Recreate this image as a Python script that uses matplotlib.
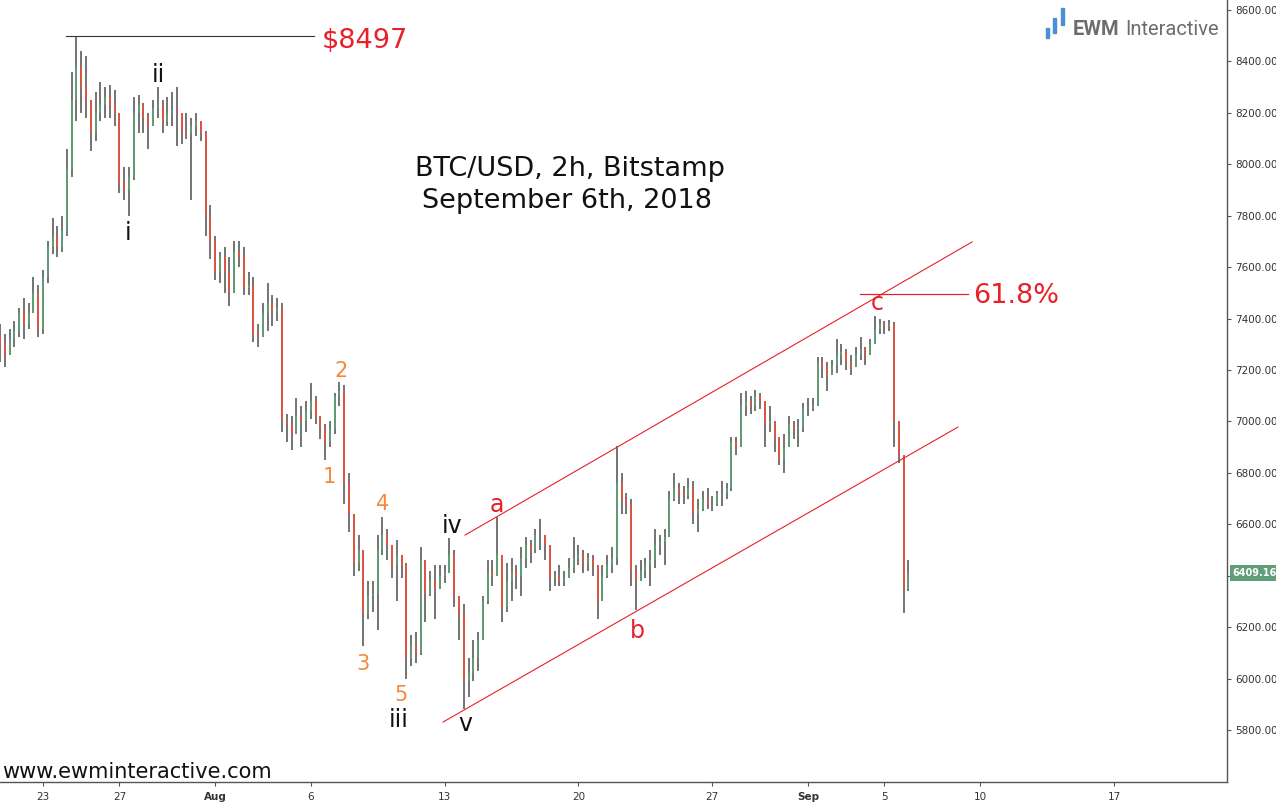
import numpy as np
import matplotlib
matplotlib.use("Agg")
import matplotlib.pyplot as plt
import matplotlib.dates as mdates
import matplotlib.transforms as mtransforms
from matplotlib.patches import Rectangle
import pandas as pd
from datetime import datetime

# ---------------- data (6h resolution) ----------------
bar_times = pd.date_range("2018-07-20 18:00", periods=191, freq="6h")
first_open = 7330

close = [7300, 7260, 7320, 7350, 7420, 7380, 7420, 7500, 7360, 7560,
         7680, 7720, 7680, 7740, 7980, 8250, 8380, 8300, 8250, 8120,
         8200, 8230, 8260, 8230, 8200, 7930, 7900, 7950, 8200, 8230,
         8180, 8150, 8220, 8230, 8170, 8200, 8210, 8200, 8130, 8120,
         8150, 8170, 8120, 7800, 7700, 7580, 7640, 7580, 7500, 7660,
         7640, 7520, 7530, 7340, 7330, 7420, 7460, 7430, 7440, 7000,
         6990, 6950, 7020, 7000, 7040, 7080, 7020, 6980, 6920, 6970,
         7100, 7120, 6760, 6640, 6450, 6500, 6250, 6320, 6330, 6500,
         6560, 6520, 6440, 6480, 6440, 6080, 6130, 6100, 6460, 6330,
         6380, 6350, 6400, 6410, 6480, 6320, 6250, 5990, 6020, 6080,
         6150, 6300, 6420, 6400, 6480, 6280, 6380, 6420, 6400, 6470,
         6520, 6500, 6560, 6560, 6520, 6390, 6400, 6380, 6390, 6430,
         6470, 6480, 6450, 6470, 6440, 6300, 6400, 6440, 6470, 6760,
         6700, 6680, 6420, 6380, 6420, 6440, 6460, 6520, 6530, 6550,
         6700, 6740, 6720, 6710, 6740, 6640, 6660, 6700, 6680, 6680,
         6720, 6720, 6740, 6920, 6900, 7060, 7080, 7060, 7100, 7080,
         6990, 7000, 6940, 6850, 6900, 6990, 6970, 6980, 7050, 7050,
         7060, 7230, 7210, 7180, 7220, 7260, 7270, 7230, 7210, 7260,
         7280, 7260, 7300, 7360, 7380, 7370, 7380, 7000, 6870, 6350,
         6409.16]

high = [7380, 7340, 7360, 7390, 7440, 7480, 7460, 7560, 7530, 7590,
        7700, 7790, 7760, 7800, 8060, 8360, 8497, 8440, 8420, 8240,
        8280, 8320, 8300, 8310, 8290, 8200, 7990, 7990, 8260, 8270,
        8240, 8200, 8250, 8300, 8250, 8260, 8280, 8300, 8190, 8200,
        8180, 8200, 8170, 8130, 7840, 7720, 7660, 7680, 7640, 7700,
        7700, 7680, 7580, 7560, 7380, 7460, 7540, 7490, 7480, 7460,
        7030, 7020, 7090, 7060, 7080, 7150, 7100, 7010, 6990, 7000,
        7110, 7155, 7140, 6800, 6580, 6560, 6500, 6380, 6380, 6560,
        6628, 6580, 6500, 6540, 6480, 6450, 6170, 6180, 6510, 6440,
        6420, 6440, 6440, 6440, 6548, 6500, 6320, 6290, 6080, 6150,
        6180, 6320, 6460, 6460, 6628, 6400, 6450, 6470, 6440, 6510,
        6550, 6540, 6580, 6620, 6560, 6470, 6420, 6440, 6420, 6470,
        6550, 6520, 6500, 6490, 6480, 6360, 6440, 6480, 6510, 6905,
        6800, 6720, 6700, 6440, 6460, 6470, 6500, 6580, 6560, 6580,
        6730, 6800, 6760, 6750, 6780, 6770, 6700, 6730, 6740, 6710,
        6730, 6770, 6760, 6940, 6940, 7110, 7120, 7100, 7122, 7110,
        7070, 7060, 7000, 6930, 6950, 7020, 7000, 7010, 7070, 7090,
        7090, 7250, 7250, 7230, 7240, 7320, 7300, 7280, 7260, 7290,
        7330, 7290, 7320, 7410, 7400, 7390, 7395, 7385, 7000, 6870,
        6460]

low = [7230, 7210, 7260, 7290, 7330, 7320, 7360, 7420, 7330, 7340,
       7540, 7650, 7640, 7660, 7720, 7950, 8170, 8200, 8180, 8050,
       8090, 8170, 8180, 8180, 8150, 7890, 7860, 7800, 7940, 8120,
       8120, 8060, 8150, 8180, 8120, 8150, 8150, 8070, 8080, 8100,
       7860, 8110, 8090, 7720, 7630, 7550, 7540, 7500, 7450, 7580,
       7600, 7490, 7490, 7310, 7290, 7350, 7350, 7370, 7390, 6960,
       6920, 6890, 6960, 6900, 6960, 7010, 6990, 6930, 6850, 6900,
       6950, 7060, 6680, 6570, 6400, 6420, 6125, 6230, 6260, 6190,
       6480, 6460, 6390, 6300, 6390, 6000, 6050, 6060, 6090, 6220,
       6320, 6230, 6350, 6370, 6420, 6280, 6150, 5880, 5930, 5990,
       6030, 6150, 6290, 6360, 6400, 6220, 6260, 6300, 6350, 6320,
       6430, 6450, 6490, 6500, 6460, 6340, 6360, 6360, 6360, 6390,
       6410, 6440, 6410, 6420, 6400, 6230, 6320, 6390, 6410, 6440,
       6640, 6640, 6360, 6265, 6380, 6390, 6360, 6430, 6480, 6440,
       6560, 6690, 6680, 6680, 6700, 6600, 6570, 6650, 6660, 6650,
       6670, 6670, 6700, 6730, 6870, 6900, 7020, 7030, 7040, 7050,
       6900, 6960, 6880, 6830, 6800, 6920, 6930, 6900, 6960, 7020,
       7040, 7060, 7170, 7120, 7180, 7190, 7220, 7200, 7180, 7210,
       7240, 7220, 7260, 7300, 7340, 7340, 7350, 6900, 6840, 6255,
       6340]

x_tick_dates = ["2018-07-23", "2018-07-27", "2018-08-01", "2018-08-06", "2018-08-13",
                "2018-08-20", "2018-08-27", "2018-09-01", "2018-09-05", "2018-09-10",
                "2018-09-17"]
x_tick_labels = ["23", "27", "Aug", "6", "13", "20", "27", "Sep", "5", "10", "17"]
bold_tick_labels = ["Aug", "Sep"]
y_ticks = [5800, 6000, 6200, 6400, 6600, 6800, 7000, 7200, 7400, 7600, 7800, 8000, 8200, 8400, 8600]

peak_price = 8497
fib_level = 7495
last_price = 6409.16

# channel lines: (day offset from Jul 23, price)
upper_channel = [(22.07, 6558), (48.58, 7698)]
lower_channel = [(20.92, 5831), (47.84, 6978)]

# wave labels: (text, day offset, price, color, size)
wave_labels = [
    ("ii", 6.01, 8320, "#111111", 17), ("i", 4.44, 7706, "#111111", 17),
    ("iii", 18.61, 5812, "#111111", 17), ("iv", 21.39, 6566, "#111111", 17),
    ("v", 22.07, 5796, "#111111", 17),
    ("1", 14.95, 6760, "#f7883b", 15), ("2", 15.58, 7173, "#f7883b", 15),
    ("3", 16.73, 6033, "#f7883b", 15), ("4", 17.78, 6655, "#f7883b", 15),
    ("5", 18.72, 5913, "#f7883b", 15),
    ("a", 23.74, 6648, "#e8202a", 17), ("b", 31.06, 6158, "#e8202a", 17),
    ("c", 43.61, 7433, "#e8202a", 17),
]

# ---------------- figure ----------------
W, H = 1276, 802
fig = plt.figure(figsize=(W / 100, H / 100), dpi=100)
ax = fig.add_axes([0, 20 / H, 1227 / W, 782 / H])

base = mdates.date2num(datetime(2018, 7, 23))
x = mdates.date2num(bar_times.to_pydatetime())
c = np.array(close, dtype=float)
o = np.concatenate([[first_open], c[:-1]])
h = np.maximum(np.array(high, dtype=float), np.maximum(o, c))
l = np.minimum(np.array(low, dtype=float), np.minimum(o, c))

GRAY = "#686868"
GREEN = "#5f9e78"
RED = "#e5533d"
up = c >= o
ax.vlines(x, l, h, color=GRAY, lw=1.3, zorder=2)
ax.vlines(x[up], o[up], c[up], color=GREEN, lw=1.3, zorder=3)
ax.vlines(x[~up], o[~up], c[~up], color=RED, lw=1.3, zorder=3)

# channel
for seg in (upper_channel, lower_channel):
    ax.plot([base + seg[0][0], base + seg[1][0]], [seg[0][1], seg[1][1]],
            color="#e8202a", lw=0.8, zorder=4)

# horizontal levels
ax.plot([base + 1.20, base + 14.17], [peak_price, peak_price], color="#333333", lw=0.8, zorder=4)
ax.plot([base + 42.72, base + 48.37], [fib_level, fib_level], color="#e8202a", lw=0.9, zorder=4)
ax.text(base + 14.59, 8452, "$" + str(peak_price), color="#e8202a", fontsize=19.5,
        ha="left", va="baseline", zorder=5)
ax.text(base + 48.63, 7461, "61.8%", color="#e8202a", fontsize=19.5,
        ha="left", va="baseline", zorder=5)

for txt, d, p, col, fs in wave_labels:
    ax.text(base + d, p, txt, color=col, fontsize=fs, ha="center", va="baseline", zorder=5)

# axes styling
ax.set_xlim(base - 2.248, base + 61.91)
ax.set_ylim(5597.7, 8638.9)
for s in ("left", "top"):
    ax.spines[s].set_visible(False)
for s in ("right", "bottom"):
    ax.spines[s].set_color("#555555")
    ax.spines[s].set_linewidth(1.0)
ax.yaxis.tick_right()
ax.set_yticks(y_ticks)
# the 6400 label is hidden behind the last-price tag in the reference
ax.set_yticklabels(["" if v == 6400 else f"{v:.2f}" for v in y_ticks])
ax.tick_params(axis="y", length=3, width=0.8, color="#555555", pad=3,
               labelsize=7.5, labelcolor="#333333")
ax.set_xticks([mdates.date2num(datetime.strptime(d, "%Y-%m-%d")) for d in x_tick_dates])
ax.set_xticklabels(x_tick_labels)
ax.tick_params(axis="x", length=3, width=0.8, color="#555555", pad=4,
               labelsize=7.5, labelcolor="#333333")
for lab in ax.get_xticklabels():
    if lab.get_text() in bold_tick_labels:
        lab.set_fontweight("bold")

# last price tag
trans = mtransforms.blended_transform_factory(ax.transAxes, ax.transData)
ax.text(1.0045, last_price, f"{last_price:.2f}", transform=trans, color="white",
        fontsize=7, fontweight="bold", ha="left", va="center", clip_on=False, zorder=6,
        bbox=dict(boxstyle="square,pad=0.3", fc=GREEN, ec="none"))

# title & watermark
fig.text(570 / W, 1 - 176 / H, "BTC/USD, 2h, Bitstamp", ha="center", va="baseline",
         fontsize=19.5, color="#111111")
fig.text(567 / W, 1 - 208 / H, "September 6th, 2018", ha="center", va="baseline",
         fontsize=19.5, color="#111111")
fig.text(2 / W, 1 - 778 / H, "www.ewminteractive.com", ha="left", va="baseline",
         fontsize=15, color="#111111")

# logo
for (lx, ly0, ly1) in [(1046, 28, 38), (1053, 18, 33), (1061, 8, 25)]:
    fig.add_artist(Rectangle((lx / W, 1 - ly1 / H), 3 / W, (ly1 - ly0) / H,
                             transform=fig.transFigure, color="#4a8fd6"))
fig.text(1073 / W, 1 - 35 / H, "EWM", ha="left", va="baseline", fontsize=14.5,
         fontweight="bold", color="#6d6d6d", family="Roboto")
fig.text(1125 / W, 1 - 35 / H, "Interactive", ha="left", va="baseline", fontsize=14.5,
         color="#6d6d6d", family="Roboto")

fig.savefig("out.png", dpi=100)
